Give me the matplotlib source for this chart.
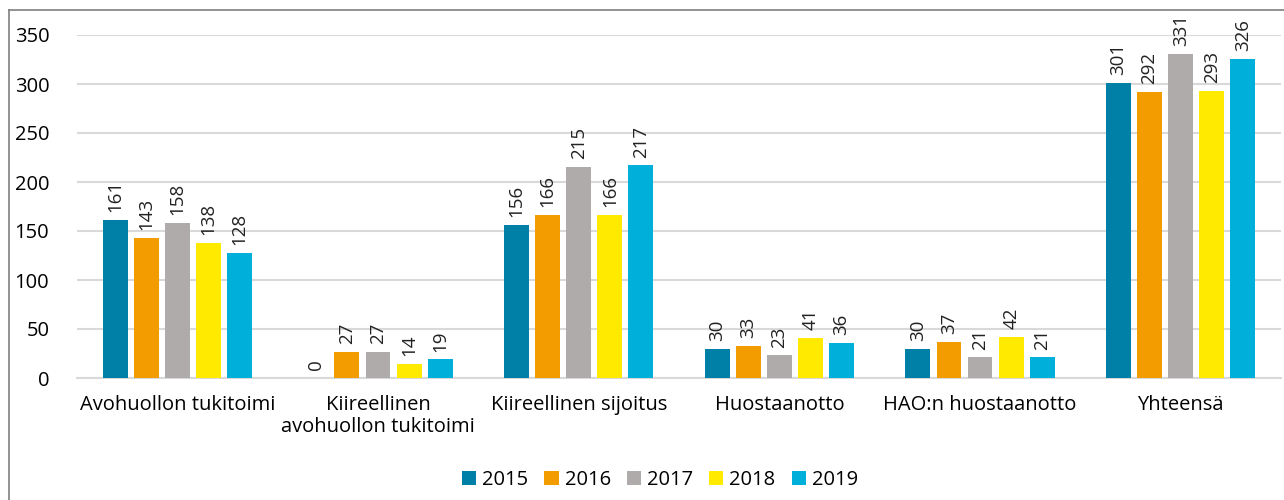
import matplotlib.pyplot as plt
import numpy as np

plt.rcParams['font.family'] = ['Open Sans', 'DejaVu Sans']

categories = ['Avohuollon tukitoimi', 'Kiireellinen\navohuollon tukitoimi',
              'Kiireellinen sijoitus', 'Huostaanotto', 'HAO:n huostaanotto', 'Yhteensä']
years = ['2015', '2016', '2017', '2018', '2019']
v2015 = [161, 0, 156, 30, 30, 301]
v2016 = [143, 27, 166, 33, 37, 292]
v2017 = [158, 27, 215, 23, 21, 331]
v2018 = [138, 14, 166, 41, 42, 293]
v2019 = [128, 19, 217, 36, 21, 326]
series = [v2015, v2016, v2017, v2018, v2019]
colors = ['#0080A6', '#F39C00', '#AFABAB', '#FFEA00', '#00B0DA']

fig = plt.figure(figsize=(12.84, 5.0), dpi=100)
ax = fig.add_axes([0.06, 0.244, 0.9377, 0.686])

x = np.arange(len(categories))
step = 0.155
for i, (vals, col, yr) in enumerate(zip(series, colors, years)):
    pos = x + (i - 2) * step
    ax.bar(pos, vals, width=0.124, color=col, label=yr, zorder=3)
    for p, v in zip(pos, vals):
        ax.text(p, v + 8, str(v), rotation=90, ha='center', va='bottom',
                fontsize=13.5, color='#222222')

ax.set_xlim(-0.5, len(categories) - 0.5)
ax.set_ylim(0, 350)
ax.set_yticks(range(0, 351, 50))
ax.set_xticks(x)
ax.set_xticklabels(categories, fontsize=14.5, linespacing=1.15)
ax.tick_params(axis='y', labelsize=14.5, length=0, pad=20)
ax.tick_params(axis='x', length=0, pad=12)
ax.grid(axis='y', color='#D9D9D9', linewidth=1.5, zorder=0)
for s in ['top', 'right', 'left']:
    ax.spines[s].set_visible(False)
ax.spines['bottom'].set_color('#D9D9D9')
ax.spines['bottom'].set_linewidth(1.5)

leg = fig.legend(loc='center', bbox_to_anchor=(0.514, 0.04), ncol=5, frameon=False,
                 fontsize=14.5, handlelength=0.7, handleheight=0.7,
                 handletextpad=0.3, columnspacing=0.8)

# outer frame like the original chart border
fig.add_artist(plt.Line2D([9/1284, 9/1284], [0, 1 - 10/500], color='#7F7F7F',
                          linewidth=1.2, transform=fig.transFigure))
fig.add_artist(plt.Line2D([9/1284, 1], [1 - 10/500, 1 - 10/500], color='#7F7F7F',
                          linewidth=1.2, transform=fig.transFigure))

fig.savefig('out.png', dpi=100)
